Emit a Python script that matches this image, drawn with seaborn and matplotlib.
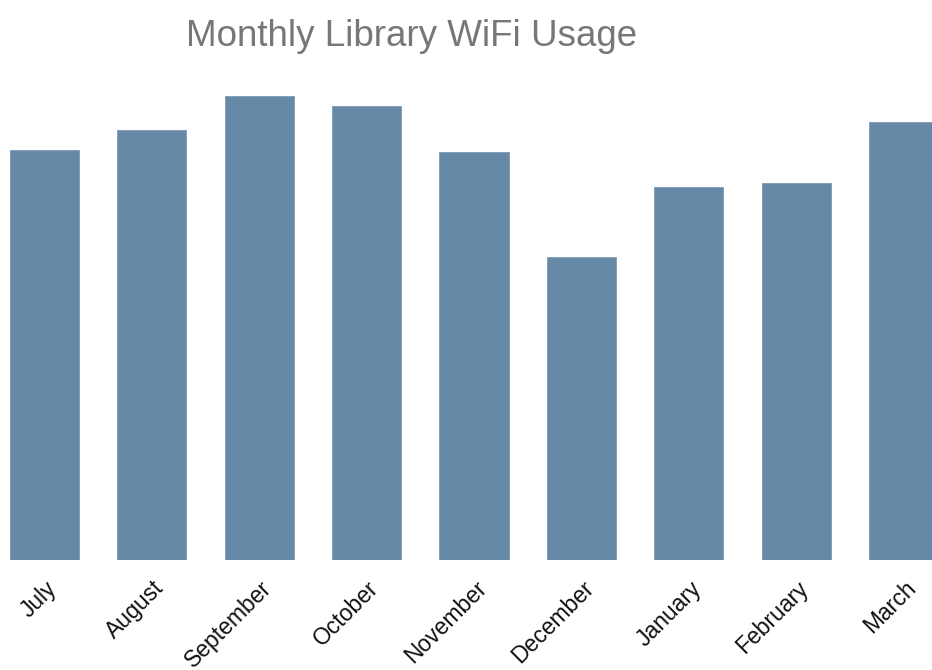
import matplotlib
matplotlib.use("Agg")
import matplotlib.pyplot as plt
import matplotlib.transforms as mtransforms
import seaborn as sns
import pandas as pd

months = ["July", "August", "September", "October", "November",
          "December", "January", "February", "March"]
usage = [4100, 4300, 4640, 4540, 4080, 3030, 3730, 3770, 4380]
title = "Monthly Library WiFi Usage"

sns.set_theme(style="white")
plt.rcParams["font.family"] = ["Liberation Sans", "DejaVu Sans"]

df = pd.DataFrame({"month": months, "usage": usage})

W, H = 932, 670
fig = plt.figure(figsize=(W / 100, H / 100), dpi=100)
ax = fig.add_axes([0, 110 / H, 1, 500 / H])

sns.barplot(data=df, x="month", y="usage", color="#6789a8", saturation=1,
            width=0.643, ax=ax, edgecolor="#7d9bb6", linewidth=0.6)

ax.set_xlim(-44.5 / 107.375, (932 - 44.5) / 107.375)
ax.set_ylim(0, 5000)
for s in ax.spines.values():
    s.set_visible(False)
ax.set_yticks([])
ax.set_xlabel("")
ax.set_ylabel("")
ax.tick_params(axis="x", length=0, pad=12)

offset = mtransforms.ScaledTranslation(17 / 100, 0, fig.dpi_scale_trans)
for lbl in ax.get_xticklabels():
    lbl.set_rotation(45)
    lbl.set_ha("right")
    lbl.set_va("top")
    lbl.set_fontsize(16.5)
    lbl.set_color("#111111")
    lbl.set_transform(lbl.get_transform() + offset)

fig.text(412 / W, 1 - 36 / H, title, ha="center", va="center",
         fontsize=26.5, color="#777777")

fig.savefig("out.png", dpi=100)
